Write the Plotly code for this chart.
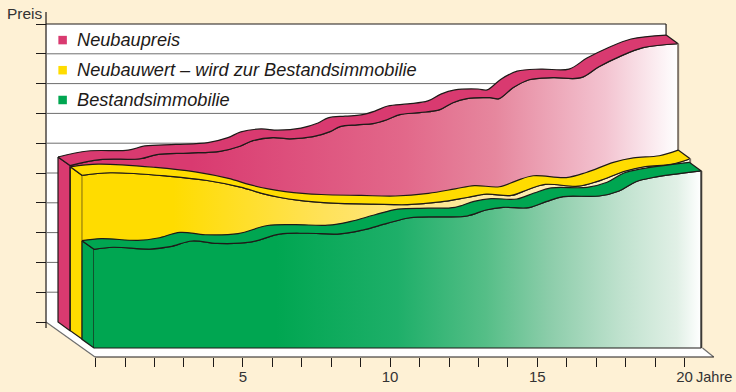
import plotly.graph_objects as go

# ---- data (year, price units above the slab's own floor)
preis_jahre = [0, 1.02, 2.38, 2.95, 4.0, 5.09, 5.77, 6.21, 6.89, 7.47, 8.25, 8.83, 9.17, 9.75, 10.29, 10.76,
               11.2, 11.88, 12.56, 13.0, 13.48, 14.26, 14.57, 15.04, 15.59, 16.4, 17.35, 17.96, 18.64, 19.46, 20.65]
preis_werte = [5.54, 5.74, 5.77, 5.91, 5.96, 6.02, 6.19, 6.38, 6.48, 6.44, 6.51, 6.68, 6.85, 6.91, 6.95, 7.08,
               7.25, 7.32, 7.42, 7.65, 7.79, 7.82, 7.79, 8.15, 8.42, 8.49, 8.49, 8.86, 9.19, 9.5, 9.63]

wert_jahre = [0.01, 0.96, 2.9, 4.25, 5.38, 6.1, 6.73, 7.31, 8.53, 9.89, 11.05, 12.17, 13.08, 13.73, 14.58,
              15.15, 15.73, 16.85, 17.53, 18.45, 19.13, 20.01, 20.65]
wert_werte = [5.5, 5.59, 5.48, 5.33, 5.11, 4.9, 4.76, 4.67, 4.57, 4.54, 4.52, 4.61, 4.76, 4.87, 4.83,
              5.03, 5.2, 5.14, 5.31, 5.65, 5.8, 5.87, 6.06]

bestand_jahre = [0, 0.65, 1.9, 2.58, 3.33, 4.18, 5.3, 6.3, 7.23, 8.35, 9.13, 9.95, 10.73, 11.75, 12.67,
                 13.31, 13.89, 14.77, 15.35, 15.93, 17.15, 17.83, 18.4, 18.98, 20.62]
bestand_werte = [3.31, 3.38, 3.32, 3.4, 3.59, 3.51, 3.55, 3.82, 3.85, 3.83, 3.96, 4.18, 4.37, 4.4, 4.43,
                 4.63, 4.72, 4.71, 4.91, 5.08, 5.1, 5.27, 5.58, 5.72, 5.94]

serien_namen = ["Neubaupreis", "Neubauwert – wird zur Bestandsimmobilie", "Bestandsimmobilie"]
jahr_ticks = list(range(21))
jahr_labels = ["5" if j == 5 else "10" if j == 10 else "15" if j == 15 else "20" if j == 20 else "" for j in jahr_ticks]
preis_ticks = list(range(11))

# ---- styling / projection
BG = "#FEF1D5"
INK = "#1e1a18"
PINK, YELLOW, GREEN = "#D93A70", "#FFDC00", "#00A651"
PX, PY = 29.45, 29.8
OX, OY = -0.054, -0.872      # front plane of the front slab
SX, SY = 0.4075, 0.29        # depth step between slab planes
WALL_L, WALL_R, WALL_T = -1.684, 19.37, 10
FLOOR_F, FLOOR_R = -1.175, 20.99

def px_x(level, jahre):
    return [j + OX - level * SX for j in jahre]

def px_y(level, werte):
    return [w + OY + level * SY for w in werte]

pink_scale = [[0, PINK], [0.2, PINK], [0.55, "#E2688A"], [0.7, "#E6879E"], [0.88, "#F3C3D0"], [1, "#FFFFFF"]]
yellow_scale = [[0, YELLOW], [0.15, YELLOW], [0.4, "#FFE25A"], [0.6, "#FEE896"], [1, "#FFF5E1"]]
green_scale = [[0, GREEN], [0.3, GREEN], [0.5, "#1EAF69"], [0.645, "#55BE87"], [0.75, "#8CCDAA"],
               [0.865, "#BEE1CD"], [0.96, "#E1F0E6"], [1, "#FFFFFF"]]

fig = go.Figure()

def line(x, y, color=INK, width=1.2, shape="linear", fill=None, fillcolor=None, fillgradient=None):
    kw = {}
    if fill:
        kw["fill"] = fill
    if fillcolor:
        kw["fillcolor"] = fillcolor
    if fillgradient:
        kw["fillgradient"] = fillgradient
    fig.add_trace(go.Scatter(x=x, y=y, mode="lines", hoverinfo="skip", showlegend=False,
                             line=dict(color=color, width=width, shape=shape, smoothing=1.0), **kw))

def slab(jahre, werte, level, colour, scale, edge):
    # level = front plane, level + 1 = back plane of this slab
    bx, by = px_x(level + 1, jahre), px_y(level + 1, werte)
    fx, fy = px_x(level, jahre), px_y(level, werte)
    # left side
    line([bx[0], fx[0], fx[0], bx[0], bx[0]],
         [by[0], fy[0], px_y(level, [0])[0], px_y(level + 1, [0])[0], by[0]],
         fill="toself", fillcolor=colour)
    # front face: floor edge + gradient up to the front curve
    base = px_y(level, [0])[0]
    line([fx[0], fx[-1]], [base, base], color=INK, width=1.2)
    line(fx, fy, shape="spline", fill="tonexty",
         fillgradient=dict(type="horizontal", colorscale=scale))
    # top ribbon
    line(bx, by, shape="spline")
    line(fx, fy, shape="spline", fill="tonexty", fillcolor=colour)
    # closing lines
    line([bx[-1], fx[-1]], [by[-1], fy[-1]])
    line([fx[0], bx[0]], [fy[0], by[0]])
    line([fx[-1], fx[-1]], [fy[-1], base], color=edge, width=2)

slab(preis_jahre, preis_werte, 2, PINK, pink_scale, "#7f7468")
slab(wert_jahre, wert_werte, 1, YELLOW, yellow_scale, "#7f7468")
slab(bestand_jahre, bestand_werte, 0, GREEN, green_scale, "#3c3a36")

# legend swatches
leg_x = [-1.12] * 3
leg_y = [9.46, 8.45, 7.45]
fig.add_trace(go.Scatter(x=leg_x, y=leg_y, mode="markers", hoverinfo="skip", showlegend=False,
                         marker=dict(symbol="square", size=8.5, color=[PINK, YELLOW, GREEN], line=dict(width=0))))

annotations = [dict(x=-0.70, y=yy, text="<i>" + t + "</i>", xanchor="left", yanchor="middle", showarrow=False,
                    font=dict(family="Liberation Sans", size=18.2, color=INK))
               for yy, t in zip(leg_y, serien_namen)]
annotations.append(dict(xref="paper", yref="paper", x=5 / 736, y=1 - 13 / 392, text="Preis", xanchor="left", yanchor="middle",
                        showarrow=False, font=dict(family="Liberation Sans", size=15.5, color="#333")))
annotations.append(dict(xref="paper", yref="paper", x=693.5 / 736, y=1 - 377 / 392, text="Jahre", xanchor="left", yanchor="middle",
                        showarrow=False, font=dict(family="Liberation Sans", size=14.5, color="#333")))

shapes = [
    dict(type="rect", layer="below", x0=WALL_L, x1=WALL_R, y0=0, y1=WALL_T, fillcolor="white", line=dict(width=0)),
    dict(type="path", layer="below",
         path=f"M{WALL_L},0 L-0.02,{FLOOR_F} L{FLOOR_R},{FLOOR_F} L{WALL_R},0 Z",
         fillcolor="white", line=dict(width=0)),
    dict(type="line", layer="below", x0=WALL_L, y0=0, x1=-0.02, y1=FLOOR_F, line=dict(color="#6e6e6e", width=1.2)),
    dict(type="line", layer="below", x0=20.61, y0=-0.872, x1=FLOOR_R, y1=FLOOR_F, line=dict(color="#6e6e6e", width=1.2)),
    dict(type="line", layer="below", x0=-0.02, y0=FLOOR_F, x1=FLOOR_R, y1=FLOOR_F, line=dict(color=INK, width=1.2)),
    dict(type="line", layer="below", x0=WALL_L, y0=-0.2, x1=WALL_L, y1=10.4, line=dict(color=INK, width=1.2)),
    dict(type="line", layer="below", x0=WALL_R, y0=9.3, x1=WALL_R, y1=WALL_T, line=dict(color=INK, width=1.2)),
    dict(type="line", layer="below", x0=WALL_L, y0=WALL_T, x1=WALL_R, y1=WALL_T, line=dict(color=INK, width=1.2)),
]
for p in preis_ticks[1:-1]:
    shapes.append(dict(type="line", layer="below", x0=WALL_L, y0=p, x1=WALL_R, y1=p, line=dict(color="#6e6e6e", width=1)))

fig.update_layout(
    width=736, height=392, margin=dict(l=0, r=0, t=0, b=0),
    paper_bgcolor=BG, plot_bgcolor=BG, showlegend=False,
    shapes=shapes, annotations=annotations,
    font=dict(family="Liberation Sans", color="#333"),
    xaxis=dict(range=[-95.6 / PX, (736 - 95.6) / PX], domain=[0, 1], showgrid=False, zeroline=False, showline=False,
               anchor="free", position=35 / 392, tickmode="array", tickvals=jahr_ticks, ticktext=jahr_labels,
               ticks="outside", ticklen=9, tickwidth=1.2, tickcolor=INK, ticklabelstandoff=-3,
               tickfont=dict(size=15, color="#333")),
    yaxis=dict(range=[-70 / PY, 322 / PY], domain=[0, 1], showgrid=False, zeroline=False, showline=False,
               anchor="free", position=46 / 736, tickmode="array", tickvals=preis_ticks, showticklabels=False,
               ticks="outside", ticklen=10, tickwidth=1, tickcolor=INK),
)

fig.write_html("out.html", config=dict(displayModeBar=False),
               post_script="document.body.style.margin='0';document.documentElement.style.background='%s';" % BG)
